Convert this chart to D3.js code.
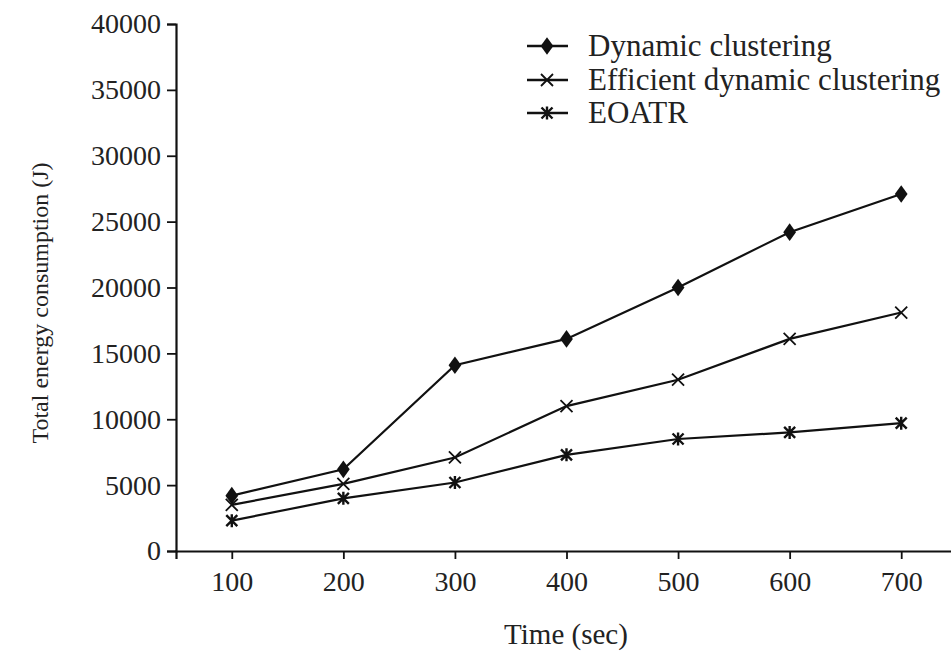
<!DOCTYPE html>
<html><head><meta charset="utf-8">
<script src="https://cdn.jsdelivr.net/npm/d3@7/dist/d3.min.js"></script>
<style>body{margin:0;background:#fff}svg{display:block}</style>
</head><body>
<svg id="c" width="951" height="655"></svg>
<script>
const times = [100, 200, 300, 400, 500, 600, 700];
const dynamicClustering = [4200, 6200, 14100, 16100, 20000, 24200, 27100];
const efficientDynamic = [3500, 5100, 7100, 11000, 13000, 16100, 18100];
const eoatr = [2300, 4000, 5200, 7300, 8500, 9000, 9700];
const yTicks = [0, 5000, 10000, 15000, 20000, 25000, 30000, 35000, 40000];
const seriesNames = ["Dynamic clustering", "Efficient dynamic clustering", "EOATR"];
const seriesMarkers = ["diamond", "x", "asterisk"];

const series = [dynamicClustering, efficientDynamic, eoatr].map((v, i) => ({
  name: seriesNames[i], marker: seriesMarkers[i], values: v.map((y, j) => ({x: times[j], y}))
}));

const svg = d3.select("#c");
const font = "'Liberation Serif', 'Times New Roman', serif";
const ink = "#111";
const x = d3.scaleLinear().domain([50, 750]).range([176, 957]);
const y = d3.scaleLinear().domain([0, 40000]).range([551, 24]);

const yAxis = svg.append("g").attr("transform", "translate(176,0)")
  .call(d3.axisLeft(y).tickValues(yTicks).tickSize(9).tickPadding(6).tickFormat(d3.format("d")));
const xAxis = svg.append("g").attr("transform", "translate(0,551)")
  .call(d3.axisBottom(x).tickValues(times).tickSize(8).tickPadding(12).tickFormat(d3.format("d")));
[yAxis, xAxis].forEach(g => {
  g.select(".domain").attr("stroke", ink).attr("stroke-width", 2.2);
  g.selectAll(".tick line").attr("stroke", ink).attr("stroke-width", 1.8);
  g.selectAll(".tick text").attr("fill", "#222").style("font-family", font).style("font-size", "28px");
});

svg.append("text").attr("x", 566).attr("y", 644).attr("text-anchor", "middle")
  .style("font-family", font).style("font-size", "29px").attr("fill", "#222").text("Time (sec)");
svg.append("text").attr("transform", "translate(48,303) rotate(-90)").attr("text-anchor", "middle")
  .style("font-family", font).style("font-size", "24px").attr("fill", "#222").text("Total energy consumption (J)");

function drawMarker(g, type, cx, cy) {
  if (type === "diamond") {
    g.append("path").attr("d", d3.symbol().type(d3.symbolDiamond).size(90)())
      .attr("transform", `translate(${cx},${cy}) scale(1.25,1)`).attr("fill", ink);
  } else if (type === "x") {
    const s = 6;
    g.append("path").attr("d", `M${cx-s},${cy-s}L${cx+s},${cy+s}M${cx-s},${cy+s}L${cx+s},${cy-s}`)
      .attr("stroke", ink).attr("stroke-width", 1.8).attr("fill", "none");
  } else {
    const s = 5.5;
    g.append("path").attr("d", `M${cx-s},${cy-s}L${cx+s},${cy+s}M${cx-s},${cy+s}L${cx+s},${cy-s}M${cx},${cy-s-1}L${cx},${cy+s+1}`)
      .attr("stroke", ink).attr("stroke-width", 2.4).attr("fill", "none");
  }
}

const line = d3.line().x(d => x(d.x)).y(d => y(d.y));
series.forEach(s => {
  const g = svg.append("g");
  g.append("path").datum(s.values).attr("d", line).attr("fill", "none").attr("stroke", ink).attr("stroke-width", 2.2);
  s.values.forEach(d => drawMarker(g, s.marker, x(d.x), y(d.y)));
});

const legendY = [46, 80, 113];
series.forEach((s, i) => {
  const g = svg.append("g");
  g.append("line").attr("x1", 527).attr("x2", 568).attr("y1", legendY[i]).attr("y2", legendY[i])
    .attr("stroke", ink).attr("stroke-width", 2.4);
  drawMarker(g, s.marker, 547, legendY[i]);
  g.append("text").attr("x", 588).attr("y", legendY[i]).attr("dy", "0.33em")
    .style("font-family", font).style("font-size", "31px").attr("fill", "#222").text(s.name);
});
</script>
</body></html>
